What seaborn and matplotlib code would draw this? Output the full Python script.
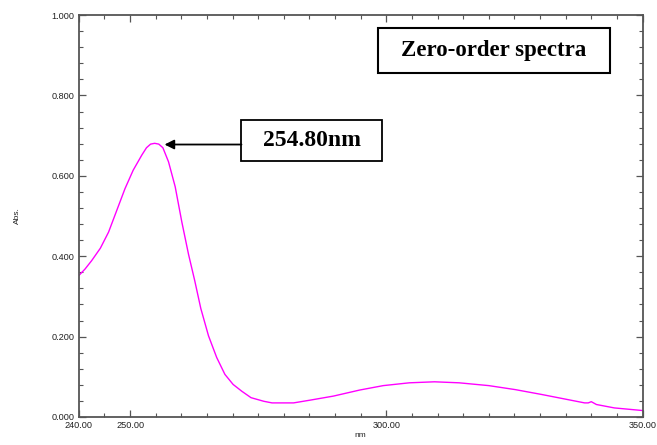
import numpy as np
import pandas as pd
import matplotlib
matplotlib.use("Agg")
import matplotlib.pyplot as plt
from matplotlib.patches import Rectangle
from matplotlib.ticker import MultipleLocator, FormatStrFormatter, FixedLocator
import seaborn as sns

wavelength = [240.0, 241.2, 242.5, 244.2, 245.8, 247.4, 249.0, 250.6, 252.3, 253.2, 254.0,
              254.8, 255.6, 256.4, 257.5, 258.8, 260.1, 261.4, 262.6, 263.8, 265.3, 266.9,
              268.5, 270.1, 271.8, 273.6, 276.1, 277.7, 281.9, 285.2, 289.7, 294.8, 299.4,
              304.5, 309.4, 314.2, 320.0, 325.2, 330.3, 335.5, 338.7, 339.4, 340.0, 341.0,
              344.5, 350.0]
absorbance = [0.352, 0.368, 0.389, 0.420, 0.460, 0.514, 0.568, 0.614, 0.652, 0.670, 0.679,
              0.681, 0.679, 0.670, 0.635, 0.573, 0.485, 0.405, 0.340, 0.270, 0.202, 0.148,
              0.106, 0.081, 0.064, 0.048, 0.039, 0.035, 0.035, 0.042, 0.052, 0.067, 0.078,
              0.085, 0.0875, 0.085, 0.078, 0.068, 0.056, 0.043, 0.035, 0.035, 0.038, 0.031,
              0.0225, 0.016]

x_ticks = [240, 250, 300, 350]
y_ticks = [0.0, 0.2, 0.4, 0.6, 0.8, 1.0]
peak_label = "254.80nm"
title_label = "Zero-order spectra"

sns.set_style("ticks")
plt.rcParams['font.family'] = ['Liberation Sans', 'DejaVu Sans']
plt.rcParams['text.color'] = 'black'

df = pd.DataFrame({"nm": wavelength, "Abs.": absorbance})

fig = plt.figure(figsize=(6.57, 4.45), dpi=100)
ax = fig.add_axes([0.120, 0.063, 0.858, 0.903])
sns.lineplot(data=df, x="nm", y="Abs.", ax=ax, color="#ff00ff", linewidth=1.0)

ax.set_xlim(240, 350)
ax.set_ylim(0, 1.0)
ax.xaxis.set_major_locator(FixedLocator(x_ticks))
ax.xaxis.set_minor_locator(MultipleLocator(5))
ax.yaxis.set_major_locator(FixedLocator(y_ticks))
ax.yaxis.set_minor_locator(MultipleLocator(0.04))
ax.xaxis.set_major_formatter(FormatStrFormatter("%.2f"))
ax.yaxis.set_major_formatter(FormatStrFormatter("%.3f"))
ax.tick_params(which="both", direction="in", top=True, right=True, color="#555555",
               labelsize=6.6, labelcolor="#222222")
ax.tick_params(which="major", length=5, width=0.9, pad=3)
ax.tick_params(which="minor", length=3, width=0.8)
for s in ax.spines.values():
    s.set_color("#555555")
    s.set_linewidth(1.3)
ax.set_xlabel("nm", fontsize=6, labelpad=1, color="#222222")
ax.set_ylabel("Abs.", fontsize=6, labelpad=22, color="#222222")

# peak annotation box
ax.add_patch(Rectangle((0.2885, 0.638), 0.2495, 0.100, transform=ax.transAxes,
                       fill=False, edgecolor="black", linewidth=1.3, zorder=5))
ax.text(0.2885 + 0.2495 / 2, 0.688, peak_label, transform=ax.transAxes, ha="center",
        va="center", fontsize=17, fontweight="bold", color="black",
        family=["Liberation Serif"], zorder=6)
ax.annotate("", xy=(0.152, 0.678), xycoords="axes fraction", xytext=(0.2885, 0.678),
            textcoords="axes fraction",
            arrowprops=dict(arrowstyle="-|>", color="black", lw=1.3, mutation_scale=14,
                            shrinkA=0, shrinkB=0))

# title box
ax.add_patch(Rectangle((0.531, 0.8554), 0.4106, 0.1122, transform=ax.transAxes,
                       fill=False, edgecolor="black", linewidth=1.5, zorder=5))
ax.text(0.531 + 0.4106 / 2, 0.911, title_label, transform=ax.transAxes, ha="center",
        va="center", fontsize=16.5, fontweight="bold", color="black",
        family=["Liberation Serif"], zorder=6)

fig.savefig("out.png", dpi=100)
